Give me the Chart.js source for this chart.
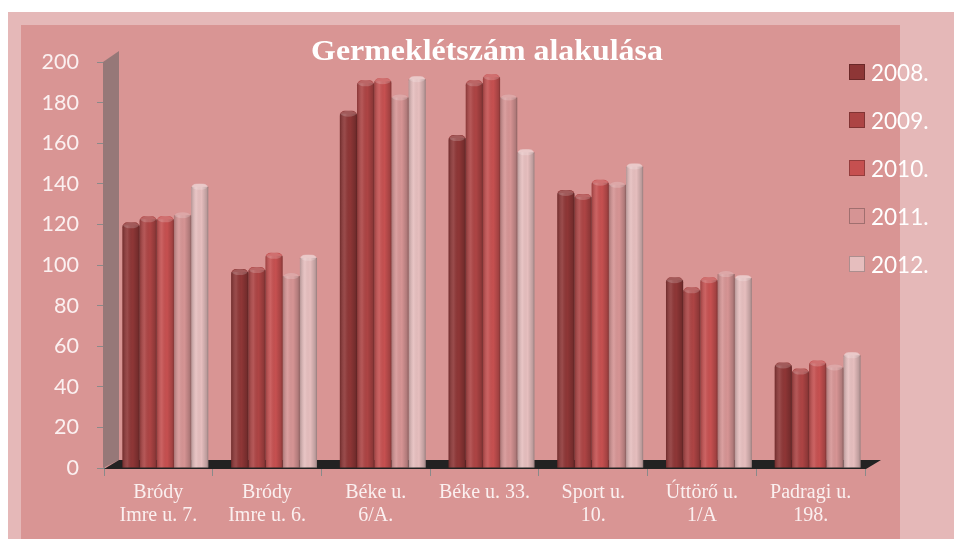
<!DOCTYPE html>
<html>
<head>
<meta charset="utf-8">
<script src="https://cdn.jsdelivr.net/npm/chart.js@4.4.1/dist/chart.umd.min.js"></script>
<style>
    body { margin: 0; background: #ffffff; }
    #frame { position: absolute; left: 8px; top: 12px; width: 946px; height: 527px; background: #e5b8b8; }
    #panel { position: absolute; left: 21px; top: 25px; width: 879px; height: 514px; background: #d99594; }
    #title { position: absolute; left: 237px; top: 34px; width: 500px; text-align: center; font: bold 29px 'Liberation Serif', serif; line-height: 32px; color: #ffffff; transform: scaleX(1.1); }
    #legend { position: absolute; left: 849px; top: 48px; }
    .item { height: 48px; display: flex; align-items: center; font: 22.5px Lato, sans-serif; color: #ffffff; }
    .box { width: 16px; height: 16px; margin-right: 6px; box-shadow: inset 0 0 0 1px rgba(0,0,0,0.25); }
    canvas { position: absolute; left: 0; top: 0; }
</style>
</head>
<body>
<div id="frame"></div>
<div id="panel"></div>
<canvas id="myChart" width="954" height="539"></canvas>
<div id="title">Germeklétszám alakulása</div>
<div id="legend"></div>
<script>
'use strict';

let sites = [['Bródy', 'Imre u. 7.'], ['Bródy', 'Imre u. 6.'], ['Béke u.', '6/A.'], 'Béke u. 33.', ['Sport u.', '10.'], ['Úttörő u.', '1/A'], ['Padragi u.', '198.']];
let years = ['2008.', '2009.', '2010.', '2011.', '2012.'];
let kids2008 = [121, 98, 176, 164, 137, 94, 52];
let kids2009 = [124, 99, 191, 191, 135, 89, 49];
let kids2010 = [124, 106, 192, 194, 142, 94, 53];
let kids2011 = [126, 96, 184, 184, 141, 97, 51];
let kids2012 = [140, 105, 193, 157, 150, 95, 57];
let yTicks = [0, 20, 40, 60, 80, 100, 120, 140, 160, 180, 200];

let colors = ['#8e3636', '#ad4444', '#c65050', '#d69494', '#e6bebe'];
let series = [kids2008, kids2009, kids2010, kids2011, kids2012];

let datasets = [];
for (let i = 0; i < years.length; i++) {
    datasets.push({
        label: years[i],
        data: series[i],
        backgroundColor: colors[i],
        borderWidth: 0,
        borderRadius: { topLeft: 5, topRight: 5 },
        borderSkipped: 'bottom',
        barPercentage: 1,
        categoryPercentage: 0.79
    });
}

// legend as html
let legendEl = document.getElementById('legend');
for (let i = 0; i < years.length; i++) {
    let item = document.createElement('div');
    item.className = 'item';
    let box = document.createElement('span');
    box.className = 'box';
    box.style.background = colors[i];
    let txt = document.createElement('span');
    txt.textContent = years[i];
    item.appendChild(box);
    item.appendChild(txt);
    legendEl.appendChild(item);
}

// back wall, floor and a bit of cylinder shading
let decor = {
    id: 'decor',
    beforeDatasetsDraw(chart) {
        let ctx = chart.ctx;
        let a = chart.chartArea;
        ctx.save();
        ctx.fillStyle = '#967878';
        ctx.beginPath();
        ctx.moveTo(a.left - 1, a.top);
        ctx.lineTo(a.left + 15, a.top - 11);
        ctx.lineTo(a.left + 15, a.bottom - 8);
        ctx.lineTo(a.left - 1, a.bottom);
        ctx.closePath();
        ctx.fill();
        ctx.fillStyle = '#222222';
        ctx.beginPath();
        ctx.moveTo(a.left, a.bottom + 1);
        ctx.lineTo(a.right + 1, a.bottom + 1);
        ctx.lineTo(a.right + 16, a.bottom - 8);
        ctx.lineTo(a.left + 15, a.bottom - 8);
        ctx.closePath();
        ctx.fill();
        ctx.restore();
        ctx.save();
        ctx.translate(7, 0);
    },
    afterDatasetsDraw(chart) {
        let ctx = chart.ctx;
        chart.data.datasets.forEach((ds, i) => {
            chart.getDatasetMeta(i).data.forEach(bar => {
                let left = bar.x - bar.width / 2;
                let g = ctx.createLinearGradient(left, 0, left + bar.width, 0);
                g.addColorStop(0, 'rgba(0,0,0,0.22)');
                g.addColorStop(0.3, 'rgba(255,255,255,0.10)');
                g.addColorStop(0.6, 'rgba(0,0,0,0)');
                g.addColorStop(0.9, 'rgba(0,0,0,0.18)');
                g.addColorStop(1, 'rgba(0,0,0,0.35)');
                ctx.fillStyle = g;
                ctx.fillRect(left, bar.y + 3, bar.width, bar.base - bar.y - 3);
                ctx.fillStyle = 'rgba(255,255,255,0.18)';
                ctx.beginPath();
                ctx.ellipse(bar.x, bar.y + 3, bar.width / 2 - 1, 3, 0, 0, Math.PI * 2);
                ctx.fill();
            });
        });
        ctx.restore();
    }
};

let ctx = document.getElementById('myChart').getContext('2d');
let myChart = new Chart(ctx, {
    type: 'bar',
    data: {
        labels: sites,
        datasets: datasets
    },
    plugins: [decor],
    options: {
        responsive: false,
        animation: false,
        layout: { padding: { left: 0, right: 89, top: 62, bottom: 0 } },
        plugins: {
            legend: { display: false },
            title: { display: false },
            tooltip: { enabled: false }
        },
        scales: {
            x: {
                afterFit: s => { s.height = 71; },
                grid: { drawOnChartArea: false, tickLength: 8, color: '#8a8a8a' },
                border: { display: true, color: '#8a8a8a' },
                ticks: {
                    color: '#fbf0f0',
                    padding: 5,
                    maxRotation: 0,
                    autoSkip: false,
                    font: { family: "'Liberation Serif', serif", size: 20, lineHeight: 1.15 }
                }
            },
            y: {
                min: 0,
                max: 200,
                afterFit: s => { s.width = 104; },
                afterBuildTicks: s => { s.ticks = yTicks.map(v => ({ value: v })); },
                grid: { drawOnChartArea: false, tickLength: 7, color: '#8a8a8a' },
                border: { display: true, color: '#8a8a8a' },
                ticks: {
                    color: '#fbf0f0',
                    padding: 18,
                    font: { family: 'Lato, sans-serif', size: 21.5 }
                }
            }
        }
    }
});
</script>
</body>
</html>
